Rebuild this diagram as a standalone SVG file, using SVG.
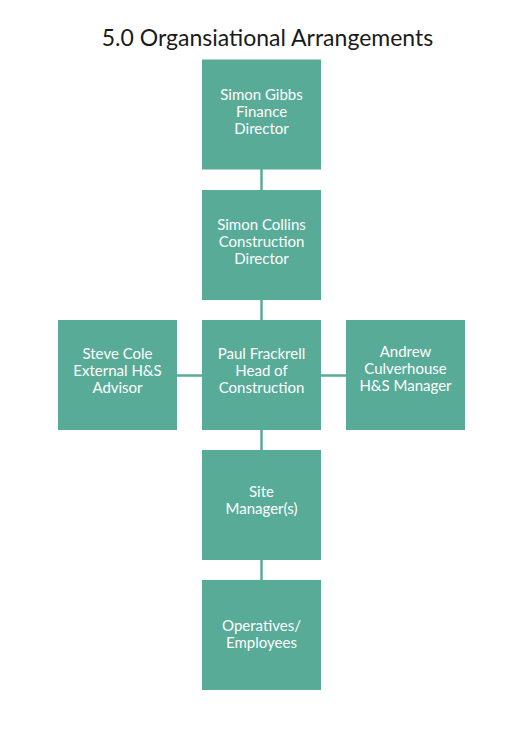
<svg xmlns="http://www.w3.org/2000/svg" width="530" height="750" viewBox="0 0 530 750">
<style>
.box{fill:#57ab97}
.t{font-family:"Lato","Open Sans",sans-serif;font-size:15px;fill:#ffffff;text-anchor:middle}
.title{font-family:"Lato","Open Sans",sans-serif;font-size:23px;fill:#1a1a1a;text-anchor:middle}
.c{stroke:#57ab97;stroke-width:2.5;fill:none}
</style>
<rect width="530" height="750" fill="#ffffff"/>
<text class="title" x="267.5" y="46">5.0 Organsiational Arrangements</text>
<g id="connectors">
<line class="c" x1="261.5" y1="169" x2="261.5" y2="190"/>
<line class="c" x1="261.5" y1="300" x2="261.5" y2="320"/>
<line class="c" x1="176.5" y1="375.5" x2="202" y2="375.5"/>
<line class="c" x1="320.5" y1="375.5" x2="346" y2="375.5"/>
<line class="c" x1="261.5" y1="429" x2="261.5" y2="450"/>
<line class="c" x1="261.5" y1="560" x2="261.5" y2="580"/>
</g>
<g id="finance">
<rect class="box" x="202" y="59.5" width="119" height="110"/>
<text class="t" x="261.5" y="100">Simon Gibbs</text>
<text class="t" x="261.5" y="117">Finance</text>
<text class="t" x="261.5" y="134">Director</text>
</g>
<g id="construction-director">
<rect class="box" x="202" y="190" width="119" height="110"/>
<text class="t" x="261.5" y="230">Simon Collins</text>
<text class="t" x="261.5" y="247">Construction</text>
<text class="t" x="261.5" y="264">Director</text>
</g>
<g id="advisor">
<rect class="box" x="58" y="320" width="119" height="110"/>
<text class="t" x="117.5" y="359">Steve Cole</text>
<text class="t" x="117.5" y="376">External H&amp;S</text>
<text class="t" x="117.5" y="393">Advisor</text>
</g>
<g id="head">
<rect class="box" x="202" y="320" width="119" height="110"/>
<text class="t" x="261.5" y="359">Paul Frackrell</text>
<text class="t" x="261.5" y="376">Head of</text>
<text class="t" x="261.5" y="393">Construction</text>
</g>
<g id="hs-manager">
<rect class="box" x="346" y="320" width="119" height="110"/>
<text class="t" x="405.5" y="357">Andrew</text>
<text class="t" x="405.5" y="374">Culverhouse</text>
<text class="t" x="405.5" y="391">H&amp;S Manager</text>
</g>
<g id="site-manager">
<rect class="box" x="202" y="450" width="119" height="110"/>
<text class="t" x="261.5" y="497">Site</text>
<text class="t" x="261.5" y="514">Manager(s)</text>
</g>
<g id="operatives">
<rect class="box" x="202" y="580" width="119" height="110"/>
<text class="t" x="261.5" y="631">Operatives/</text>
<text class="t" x="261.5" y="648">Employees</text>
</g>
</svg>
